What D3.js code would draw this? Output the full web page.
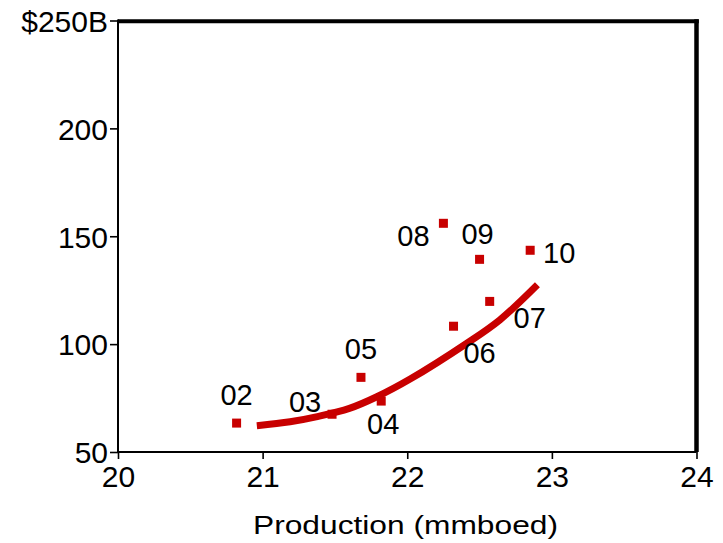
<!DOCTYPE html>
<html>
<head>
<meta charset="utf-8">
<script src="https://cdn.jsdelivr.net/npm/d3@7"></script>
<style>
  html, body { margin: 0; padding: 0; background: #fff; }
  svg { display: block; }
  text { font-family: "Liberation Sans", Arial, sans-serif; fill: #000; }
</style>
</head>
<body>
<svg id="chart" width="723" height="543"></svg>
<script>
// ---- data ----
const years = ["02", "03", "04", "05", "06", "07", "08", "09", "10"];
const production = [20.82, 21.48, 21.82, 21.68, 22.32, 22.57, 22.25, 22.50, 22.85];
const value = [63.4, 67.5, 73.6, 84.6, 108.3, 119.8, 156.0, 139.3, 143.5];
const trendX = [20.96, 21.19, 21.37, 21.60, 21.79, 22.02, 22.41, 22.64, 22.90];
const trendY = [62.2, 64.0, 66.3, 70.2, 75.6, 83.8, 100.3, 111.2, 127.5];
const xTicks = [20, 21, 22, 23, 24];
const yTicks = [50, 100, 150, 200, 250];
const yTickLabels = ["50", "100", "150", "200", "$250B"];
const xTitle = "Production (mmboed)";

// ---- layout (label offsets in px relative to marker) ----
const labelOffsets = [[0,-29],[-27,-13],[2,22],[0,-29],[26,26],[40,16],[-30,12],[-2,-26],[29,2]];

const svg = d3.select("#chart");
const L = 118, R = 696.5, T = 20.5, B = 452;
const x = d3.scaleLinear().domain([20, 24]).range([L, R]);
const y = d3.scaleLinear().domain([50, 250]).range([B, T]);
const red = "#c80000";

// frame: thick top & right
svg.append("line").attr("x1", L).attr("x2", R + 2.3).attr("y1", 21.3).attr("y2", 21.3)
  .attr("stroke", "#000").attr("stroke-width", 4);
svg.append("line").attr("x1", R).attr("x2", R).attr("y1", 19.3).attr("y2", B)
  .attr("stroke", "#000").attr("stroke-width", 4.5);

// axes
const yAxis = svg.append("g").attr("transform", `translate(${L},0)`)
  .call(d3.axisLeft(y).tickValues(yTicks).tickFormat((d, i) => yTickLabels[i]).tickSize(8).tickPadding(2));
const xAxis = svg.append("g").attr("transform", `translate(0,${B})`)
  .call(d3.axisBottom(x).tickValues(xTicks).tickFormat(d3.format("d")).tickSize(7).tickPadding(6));
[yAxis, xAxis].forEach(g => {
  g.select(".domain").attr("stroke", "#000").attr("stroke-width", 2);
  g.selectAll(".tick line").attr("stroke", "#000").attr("stroke-width", 1.6);
  g.selectAll(".tick text").style("font-family", '"Liberation Sans", Arial, sans-serif')
    .style("font-size", "30px").attr("fill", "#000");
});
yAxis.select(".domain").attr("d", `M0,${B}V${T - 1}`);
xAxis.select(".domain").attr("d", `M${L},0H${R}`);
yAxis.selectAll(".tick text").attr("dy", "0.36em");
xAxis.selectAll(".tick text").attr("dy", "0.72em");

// markers
const pts = years.map((yr, i) => ({ yr, px: production[i], v: value[i], off: labelOffsets[i] }));
svg.append("g").selectAll("rect").data(pts).join("rect")
  .attr("x", d => x(d.px) - 4.5).attr("y", d => y(d.v) - 4.5)
  .attr("width", 9).attr("height", 9).attr("fill", red);

// trend line
const trend = trendX.map((tx, i) => [tx, trendY[i]]);
svg.append("path").datum(trend)
  .attr("d", d3.line().x(d => x(d[0])).y(d => y(d[1])).curve(d3.curveCatmullRom))
  .attr("fill", "none").attr("stroke", red).attr("stroke-width", 7).attr("stroke-linecap", "butt");

// point labels
svg.append("g").selectAll("text").data(pts).join("text")
  .attr("x", d => x(d.px) + d.off[0]).attr("y", d => y(d.v) + d.off[1])
  .attr("dy", "0.36em").attr("text-anchor", "middle")
  .style("font-size", "29px").text(d => d.yr);

// x title
svg.append("text").attr("x", 253).attr("y", 534)
  .attr("textLength", 305).attr("lengthAdjust", "spacingAndGlyphs")
  .style("font-size", "26px").text(xTitle);
</script>
</body>
</html>
